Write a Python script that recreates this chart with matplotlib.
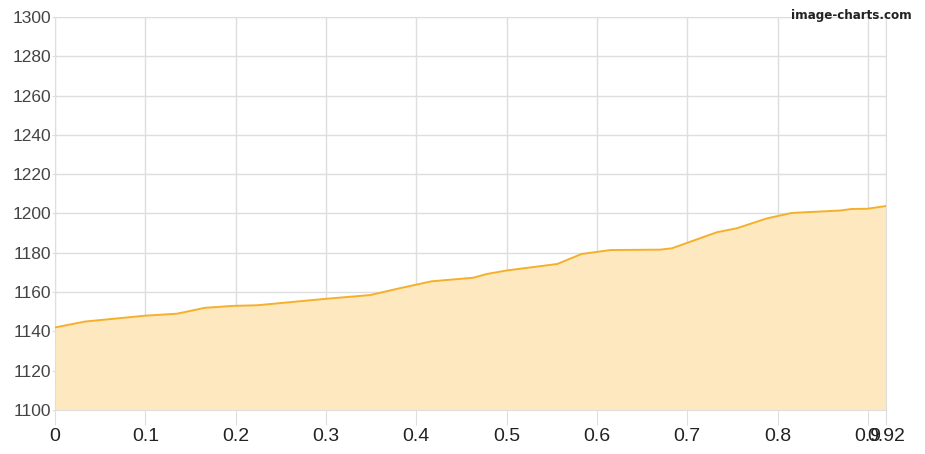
import matplotlib
matplotlib.use('Agg')
import matplotlib.pyplot as plt

# values
x_vals = [0.0, 0.033, 0.1, 0.135, 0.166, 0.198, 0.224, 0.293, 0.349, 0.382,
          0.417, 0.463, 0.478, 0.5, 0.556, 0.583, 0.615, 0.67, 0.683, 0.733,
          0.755, 0.788, 0.816, 0.869, 0.882, 0.899, 0.92]
y_vals = [1142, 1145, 1148, 1149, 1152, 1153, 1153.3, 1156.3, 1158.5, 1162,
          1165.5, 1167.3, 1169.2, 1171, 1174.3, 1179.4, 1181.4, 1181.6, 1182.3, 1190.5,
          1192.5, 1197.5, 1200.3, 1201.5, 1202.3, 1202.4, 1203.8]
x_ticks = [0, 0.1, 0.2, 0.3, 0.4, 0.5, 0.6, 0.7, 0.8, 0.9, 0.92]
x_tick_labels = ['0', '0.1', '0.2', '0.3', '0.4', '0.5', '0.6', '0.7', '0.8', '0.9', '0.92']
y_ticks = list(range(1100, 1301, 20))

fig = plt.figure(figsize=(9.25, 4.54), dpi=100)
ax = fig.add_axes([55 / 925, 44 / 454, 831 / 925, 393 / 454])

ax.fill_between(x_vals, y_vals, 1100, color='#fde8c0', linewidth=0, zorder=2)
ax.plot(x_vals, y_vals, color='#f5b02a', linewidth=1.4, zorder=3)

ax.set_xlim(0, 0.92)
ax.set_ylim(1100, 1300)
ax.set_xticks(x_ticks)
ax.set_xticklabels(x_tick_labels, fontsize=14, color='#222222', family='Liberation Sans')
ax.set_yticks(y_ticks)
ax.set_yticklabels([str(v) for v in y_ticks], fontsize=12.5, color='#444444', family='Liberation Sans')

ax.grid(True, color='#dedede', linewidth=1, zorder=1)
ax.set_axisbelow(True)
ax.tick_params(axis='x', length=11, color='#dedede', pad=2)
ax.tick_params(axis='y', length=2, color='#dedede', pad=0.5)
for side in ['top', 'right', 'left', 'bottom']:
    ax.spines[side].set_color('#dedede')

# watermark
fig.text(912 / 925, 1 - 16 / 454, 'image-charts.com', ha='right', va='center',
         fontsize=9.5, color='#222222', family='DejaVu Sans', weight='bold', stretch='condensed')

fig.savefig('out.png', dpi=100)
